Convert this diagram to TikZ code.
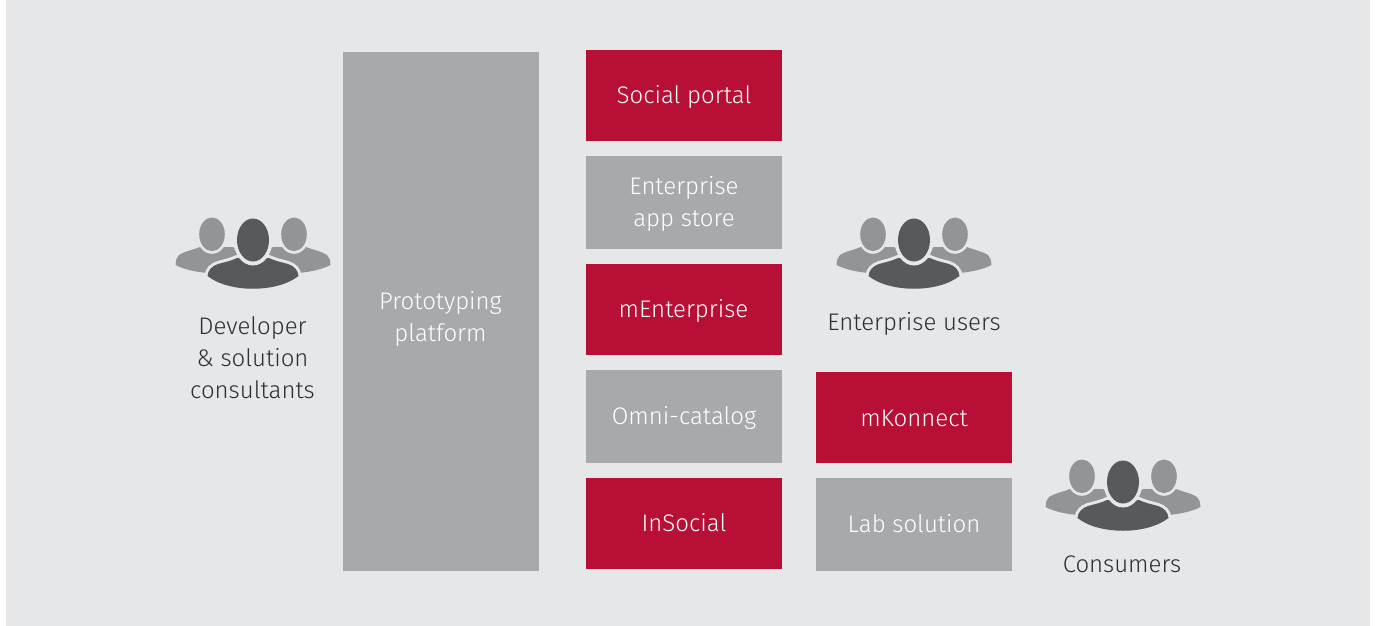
\documentclass[tikz,border=0pt]{standalone}
\usepackage{fontspec}
\setmainfont{Fira Sans Light}
\definecolor{bgc}{HTML}{E6E7E8}
\definecolor{redc}{HTML}{B70F35}
\definecolor{grayc}{HTML}{A7A9AC}
\definecolor{midc}{HTML}{929497}
\definecolor{darkc}{HTML}{58595B}
\definecolor{textc}{HTML}{2E2E30}
\tikzset{
  boxbase/.style={anchor=center,inner sep=0pt,outer sep=0pt,minimum width=196pt},
  redbox/.style={boxbase,fill=redc},
  graybox/.style={boxbase,fill=grayc},
  boxtext/.style={align=center,text=white,inner sep=0pt,font=\fontsize{24}{32}\selectfont},
  caption/.style={align=center,text=textc,inner sep=0pt,font=\fontsize{24}{32}\selectfont},
  people/.pic={
    \path[fill=midc] (-77.5,25) .. controls (-77,20) and (-76.5,17) .. (-74,15) .. controls (-68,11) and (-60,10) .. (-53,7)
      -- (-20,7) -- (-12,14) -- (-20,36) -- (-45,33) .. controls (-58,32) and (-70,29) .. (-77.5,25) -- cycle;
    \path[fill=midc] (77.5,25) .. controls (77,20) and (76.5,17) .. (74,15) .. controls (68,11) and (60,10) .. (53,7)
      -- (20,7) -- (12,14) -- (20,36) -- (45,33) .. controls (58,32) and (70,29) .. (77.5,25) -- cycle;
    \path[fill=bgc] (-41,-5.7) ellipse [x radius=15.5pt,y radius=19.5pt];
    \path[fill=bgc] (41,-5.7) ellipse [x radius=15.5pt,y radius=19.5pt];
    \path[fill=midc] (-41,-5.7) ellipse [x radius=12.8pt,y radius=16.8pt];
    \path[fill=midc] (41,-5.7) ellipse [x radius=12.8pt,y radius=16.8pt];
    \path[preaction={draw=bgc,line width=6pt},fill=darkc] (-45.5,36) .. controls (-45,30) and (-41,26) .. (-35,24)
      .. controls (-28,22) and (-22,21) .. (-16,18) -- (16,18)
      .. controls (22,21) and (28,22) .. (35,24) .. controls (41,26) and (45,30) .. (45.5,36)
      .. controls (24,53) and (-24,53) .. (-45.5,36) -- cycle;
    \path[fill=bgc] (0,0) ellipse [x radius=19.5pt,y radius=25.5pt];
    \path[fill=darkc] (0,0) ellipse [x radius=16pt,y radius=21.5pt];
  }
}
\begin{document}
\begin{tikzpicture}[x=1pt,y=-1pt]
\useasboundingbox (0,0) rectangle (1377,626);
\fill[white] (0,0) rectangle (1377,626);
\fill[bgc] (6,0) rectangle (1370,626);
\node[graybox,minimum height=519pt] (proto) at (441,311.5) {};
\node[boxtext] (protot) at (440.5,319) {Prototyping\\platform};
\node[redbox,minimum height=91pt] (social) at (684,95.5) {};
\node[boxtext] (socialt) at (684,96.5) {Social portal};
\node[graybox,minimum height=93pt] (store) at (684,202.5) {};
\node[boxtext] (storet) at (684,203.5) {Enterprise\\app store};
\node[redbox,minimum height=91pt] (ment) at (684,309.5) {};
\node[boxtext] (mentt) at (683.5,311) {mEnterprise};
\node[graybox,minimum height=93pt] (omni) at (684,416.5) {};
\node[boxtext] (omnit) at (684,418) {Omni-catalog};
\node[redbox,minimum height=91pt] (insocial) at (684,523.5) {};
\node[boxtext] (insocialt) at (684,523) {InSocial};
\node[redbox,minimum height=91pt] (mkon) at (914,417.5) {};
\node[boxtext] (mkont) at (914,418) {mKonnect};
\node[graybox,minimum height=93pt] (lab) at (914,524.5) {};
\node[boxtext] (labt) at (914,523.5) {Lab solution};
\pic at (253,240) {people};
\pic at (914,240) {people};
\pic at (1123,482) {people};
\node[caption] (dev) at (252.5,358) {Developer\\\& solution\\consultants};
\node[caption] (ent) at (914,323.5) {Enterprise users};
\node[caption] (cons) at (1122,564.5) {Consumers};
\end{tikzpicture}
\end{document}
